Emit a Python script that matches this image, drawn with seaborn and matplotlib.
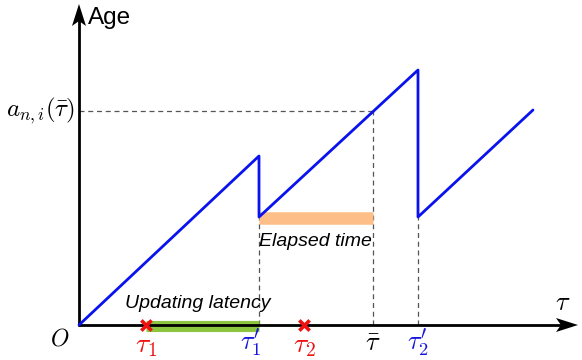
import matplotlib
matplotlib.use("Agg")
import matplotlib.pyplot as plt
from matplotlib.patches import Polygon
import seaborn as sns
import pandas as pd

# ---- data (time / age units) ----
saw_t = [0, 180, 180, 339, 339, 454]
saw_age = [0, 169, 108, 255, 108, 215]
gen_times = [67, 225]          # tau_1, tau_2 (generation)
upd_times = [180, 339]         # tau'_1, tau'_2 (update)
tau_bar = 294
age_bar = 214
gen_labels = [r"$\tau_1$", r"$\tau_2$"]
upd_labels = [r"$\tau_1'$", r"$\tau_2'$"]

sns.set_theme(style="white")
plt.rcParams["font.family"] = ["Liberation Sans", "DejaVu Sans"]
plt.rcParams["mathtext.fontset"] = "cm"
plt.rcParams["text.color"] = "black"

fig = plt.figure(figsize=(5.82, 3.6), dpi=100)
ax = fig.add_axes([0, 0, 1, 1])
ax.set_xlim(-79, 503)
ax.set_ylim(-35, 325)
ax.set_axis_off()

# axes lines with stealth arrow heads
ax.plot([-1, 482], [0, 0], color="black", lw=2, zorder=3, solid_capstyle="butt")
ax.plot([0, 0], [-1, 305], color="black", lw=2, zorder=3, solid_capstyle="butt")
ax.add_patch(Polygon([[499, 0], [477, 7], [482, 0], [477, -7]], closed=True,
                     color="black", lw=0, zorder=3))
ax.add_patch(Polygon([[0, 321], [-7, 299], [0, 304], [7, 299]], closed=True,
                     color="black", lw=0, zorder=3))

# dashed guides
dash_kw = dict(color="#555555", lw=0.9, ls=(0, (4, 3)), zorder=1)
ax.plot([0, tau_bar], [age_bar, age_bar], **dash_kw)
ax.plot([tau_bar, tau_bar], [0, age_bar], **dash_kw)
ax.plot([upd_times[0], upd_times[0]], [0, saw_age[2]], **dash_kw)
ax.plot([upd_times[1], upd_times[1]], [0, saw_age[4]], **dash_kw)

# bars: updating latency & elapsed time
ax.plot([gen_times[0], upd_times[0]], [-0.5, -0.5], color="#8cc63f", lw=8,
        solid_capstyle="butt", zorder=2)
ax.plot([upd_times[0], tau_bar], [saw_age[2] - 1, saw_age[2] - 1], color="#fdbf87", lw=9,
        solid_capstyle="butt", zorder=2)

# sawtooth age curve
df = pd.DataFrame({"t": saw_t, "age": saw_age})
sns.lineplot(data=df, x="t", y="age", sort=False, estimator=None, color="#0a12ee",
             lw=2, ax=ax, zorder=4)

# generation markers
sns.scatterplot(x=gen_times, y=[0, 0], marker="x", color="#ee1111", s=55, linewidth=2.6,
                ax=ax, zorder=5)

# labels
ax.text(9, 307, "Age", fontsize=17.5, ha="left", va="center")
ax.text(484, 22, r"$\tau$", fontsize=19, ha="center", va="center")
ax.text(-19, -15, r"$O$", fontsize=17, ha="center", va="center")
ax.text(-4, age_bar, r"$a_{n,i}(\bar{\tau})$", fontsize=18, ha="right", va="center")
for t, lab in zip(gen_times, gen_labels):
    ax.text(t, -21, lab, fontsize=20, color="#ee1111", ha="center", va="center")
for t, lab in zip(upd_times, upd_labels):
    ax.text(t - 8 if t == upd_times[0] else t, -18, lab, fontsize=19, color="#1515dd",
            ha="center", va="center")
ax.text(tau_bar, -19, r"$\bar{\tau}$", fontsize=19, color="black", ha="center", va="center")
ax.text(119, 22, "Updating latency", fontsize=14, style="italic", ha="center", va="center")
ax.text(236, 84, "Elapsed time", fontsize=14, style="italic", ha="center", va="center")

fig.savefig("out.png", dpi=100)
